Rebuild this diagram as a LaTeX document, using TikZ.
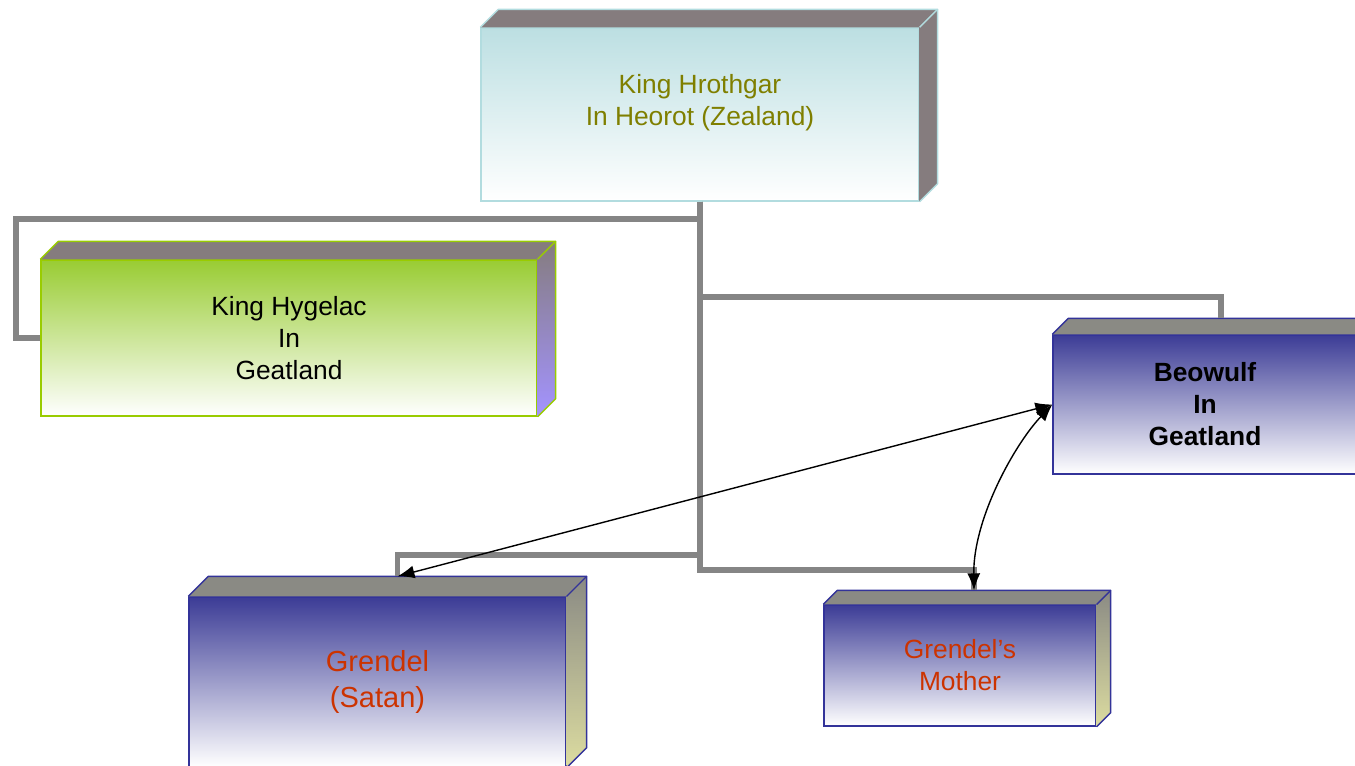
\documentclass[tikz,border=0pt]{standalone}
\usepackage{fontspec}
\setmainfont{Liberation Sans}
\usetikzlibrary{arrows.meta}

\definecolor{hrothgartop}{HTML}{BCDFE2}
\definecolor{hrothgarline}{HTML}{B2DCDF}
\definecolor{hygelactop}{HTML}{99CC33}
\definecolor{hygelacline}{HTML}{99CC00}
\definecolor{hygelacside}{HTML}{A393FF}
\definecolor{slabblue}{HTML}{3C3C96}
\definecolor{slabline}{HTML}{333399}
\definecolor{slabkhaki}{HTML}{DCDCA0}
\definecolor{roofgrey}{HTML}{857C7E}
\definecolor{roofstone}{HTML}{8A8A84}
\definecolor{branchgrey}{HTML}{858585}
\definecolor{kingolive}{HTML}{7F7F00}
\definecolor{fiendred}{HTML}{CC3300}

%% Deckel und Seite eines Kastens
%% #1 Knoten, #2 Tiefe, #3 Deckel, #4/#5 Seite (oben/unten), #6 Kante
\newcommand{\slabfaces}[6]{%
	\fill[#3] (#1.north west) -- ++(#2,-#2) -- ([shift={(#2,-#2)}]#1.north east) -- (#1.north east) -- cycle;
	\shade[top color=#4, bottom color=#5] (#1.north east) -- ++(#2,-#2) -- ([shift={(#2,-#2)}]#1.south east) -- (#1.south east) -- cycle;
	\draw[#6, line width=0.8pt, line join=round] (#1.north west) -- ++(#2,-#2) -- ([shift={(#2,-#2)}]#1.north east) -- ([shift={(#2,-#2)}]#1.south east) -- (#1.south east);
	\draw[#6, line width=0.8pt] (#1.north east) -- ++(#2,-#2);
	\coordinate (#1-top) at ([shift={(#2,-#2)}]#1.north);
}

\begin{document}
\begin{tikzpicture}[x=0.02cm, y=-0.02cm,
	slab/.style={draw, line width=0.8pt, inner sep=0pt, align=center, font=\fontsize{15}{18.2}\selectfont},
	branch/.style={branchgrey, line width=2.9pt},
	link/.style={line width=0.8pt, {Latex[length=0.34cm, width=0.26cm]}-{Latex[length=0.34cm, width=0.26cm]}}]

\path[use as bounding box, clip] (0,0) rectangle (1355,765);

%% Kaesten
\node[slab, draw=hrothgarline, top color=hrothgartop, bottom color=white, minimum width=8.76cm, minimum height=3.46cm] (hrothgar) at (700,114.5) {};
\node[text=kingolive, align=center, font=\fontsize{15}{18.2}\selectfont] (hrothgar-text) at ([yshift=0.24cm]hrothgar.center) {King Hrothgar\\In Heorot (Zealand)};
\slabfaces{hrothgar}{18}{roofgrey}{roofgrey}{roofgrey}{hrothgarline}

\node[slab, draw=hygelacline, top color=hygelactop, bottom color=white, minimum width=9.92cm, minimum height=3.12cm] (hygelac) at (289,338) {King Hygelac\\In\\Geatland};
\slabfaces{hygelac}{18}{roofgrey}{roofgrey}{hygelacside}{hygelacline}

\node[slab, draw=slabline, top color=slabblue, bottom color=white, minimum width=6.08cm, minimum height=2.78cm, font=\fontsize{15}{18.2}\selectfont\bfseries] (beowulf) at (1205,404.5) {Beowulf\\In\\Geatland};
\slabfaces{beowulf}{16}{roofstone}{roofstone}{slabkhaki}{slabline}

\node[slab, draw=slabline, top color=slabblue, bottom color=white, minimum width=7.54cm, minimum height=3.4cm, text=fiendred, font=\fontsize{16.5}{20}\selectfont] (grendel) at (377.5,682) {Grendel\\(Satan)};
\slabfaces{grendel}{20}{roofstone}{roofstone}{slabkhaki}{slabline}

\node[slab, draw=slabline, top color=slabblue, bottom color=white, minimum width=5.44cm, minimum height=2.42cm, text=fiendred] (mother) at (960,665.5) {Grendel’s\\Mother};
\slabfaces{mother}{14}{roofstone}{roofstone}{slabkhaki}{slabline}
%%%%%%%%%%%%%%%%

%% Verbindungen
\draw[branch] (hrothgar.south) -- (hrothgar.south |- 0,219) -| (hygelac.west -| 16,0) -- (hygelac.west);
\draw[branch] (hrothgar.south) -- (hrothgar.south |- 0,297) -| (beowulf-top);
\draw[branch] (hrothgar.south) -- (hrothgar.south |- 0,555) -| (grendel-top);
\draw[branch] (hrothgar.south) -- (hrothgar.south |- 0,570) -| (mother-top);

%% Pfeile
\draw[link] (grendel-top) -- (beowulf.west);
\draw[link] (beowulf.west) .. controls +(-38,40) and +(-1,-71) .. (mother-top);

\end{tikzpicture}
\end{document}
